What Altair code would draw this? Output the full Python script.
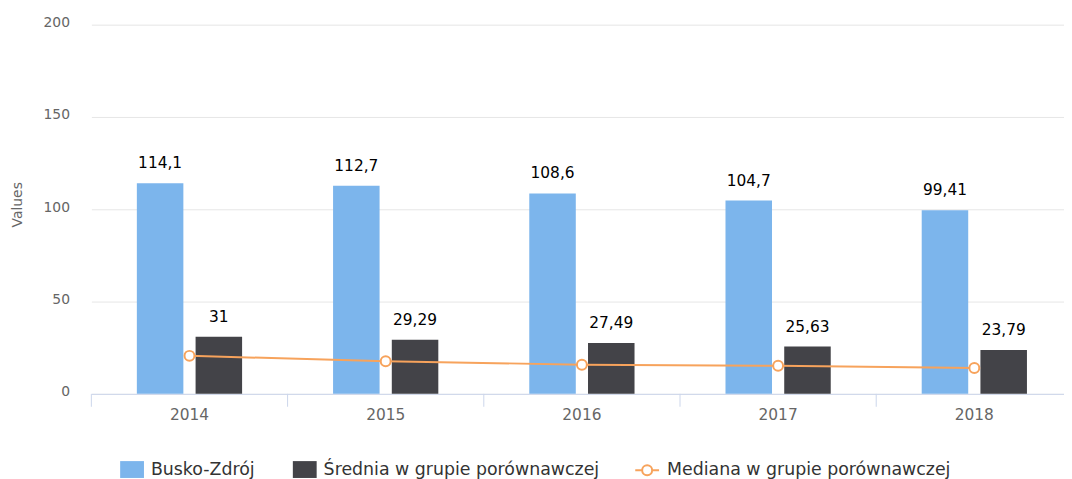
import altair as alt
import pandas as pd

years = ["2014", "2015", "2016", "2017", "2018"]
busko = [114.1, 112.7, 108.6, 104.7, 99.41]
srednia = [31, 29.29, 27.49, 25.63, 23.79]
mediana = [20.6, 17.7, 15.8, 15.2, 14.0]
series_names = ["Busko-Zdrój", "Średnia w grupie porównawczej", "Mediana w grupie porównawczej"]
colors = ["#7cb5ec", "#434348", "#f7a35c"]
y_ticks = [0, 50, 100, 150, 200]

bars_df = pd.DataFrame({
    "year": years * 2,
    "series": [series_names[0]] * len(years) + [series_names[1]] * len(years),
    "value": busko + srednia,
})
med_df = pd.DataFrame({"year": years, "series": series_names[2], "value": mediana})
ticks_df = pd.DataFrame({"year": years})

W, H = 980, 372
FONT = "DejaVu Sans"

x_scale = alt.Scale(domain=years, range=[0, 988.5], paddingInner=0, paddingOuter=0)
y_scale = alt.Scale(domain=[0, 200], nice=False)
xoff_scale = alt.Scale(domain=series_names[:2], paddingInner=0.208, paddingOuter=0.7745)

rect_path = "M-1,-0.708H1V0.708H-1Z"
line_path = ("M-1,0L-0.42,0M0.42,0L1,0"
             "M-0.42,0A0.42,0.42,0,1,0,0.42,0A0.42,0.42,0,1,0,-0.42,0Z")

ticks = alt.Chart(ticks_df).mark_rule(color="#ccd6eb", strokeWidth=1).encode(
    x=alt.X("year:N", scale=x_scale, bandPosition=0, title=None),
    y=alt.value(H),
    y2=alt.value(H + 13),
)

bars = alt.Chart(bars_df).mark_bar().encode(
    x=alt.X("year:N", scale=x_scale, title=None),
    xOffset=alt.XOffset("series:N", scale=xoff_scale),
    y=alt.Y("value:Q", scale=y_scale, title="Values", axis=alt.Axis(values=y_ticks)),
    color=alt.Color(
        "series:N",
        scale=alt.Scale(domain=series_names[:2], range=colors[:2]),
        legend=alt.Legend(
            title=None, orient="none", legendX=29, legendY=436, direction="horizontal",
            symbolType=rect_path, symbolSize=576, symbolStrokeWidth=0, symbolOpacity=1,
            labelOffset=7, columnPadding=38, labelLimit=500,
        ),
    ),
)

labels = alt.Chart(bars_df).transform_calculate(
    label="replace(toString(datum.value), '.', ',')"
).mark_text(dy=-15, baseline="alphabetic", font=FONT, fontSize=15.5, color="#000000").encode(
    x=alt.X("year:N", scale=x_scale, title=None),
    xOffset=alt.XOffset("series:N", scale=xoff_scale),
    y=alt.Y("value:Q", scale=y_scale, title="Values"),
    text="label:N",
)

line = alt.Chart(med_df).mark_line(
    strokeWidth=2,
    point=alt.OverlayMarkDef(filled=False, fill="white", size=100, strokeWidth=2),
).encode(
    x=alt.X("year:N", scale=x_scale, title=None),
    y=alt.Y("value:Q", scale=y_scale, title="Values"),
    stroke=alt.Stroke(
        "series:N",
        scale=alt.Scale(domain=[series_names[2]], range=[colors[2]]),
        legend=alt.Legend(
            title=None, orient="none", legendX=547, legendY=436, direction="horizontal",
            symbolType=line_path, symbolSize=576, symbolStrokeWidth=2,
            symbolFillColor="white", labelOffset=7, labelLimit=500,
        ),
    ),
)

chart = alt.layer(ticks, bars, labels, line).properties(
    width=W,
    height=H,
    autosize=alt.AutoSizeParams(type="none"),
    padding={"left": 84, "top": 15, "right": 0, "bottom": 84},
).configure_view(stroke=None).configure_axisY(
    grid=True, gridColor="#e6e6e6", gridWidth=1, domain=False, ticks=False,
    labelFont=FONT, labelFontSize=14, labelColor="#666666", labelPadding=22, labelOffset=-2,
    titleFont=FONT, titleFontSize=14, titleColor="#666666", titleFontWeight="normal",
    titleX=-74, titleY=181, titleAlign="center", titleBaseline="middle",
).configure_axisX(
    grid=False, domainColor="#ccd6eb", domainWidth=1, ticks=False,
    labelFont=FONT, labelFontSize=15.5, labelColor="#666666", labelPadding=14, labelAngle=0,
).configure_legend(
    labelFont=FONT, labelFontSize=17.5, labelColor="#333333",
)

chart.save("out.html", embed_options={"renderer": "svg", "actions": False})
